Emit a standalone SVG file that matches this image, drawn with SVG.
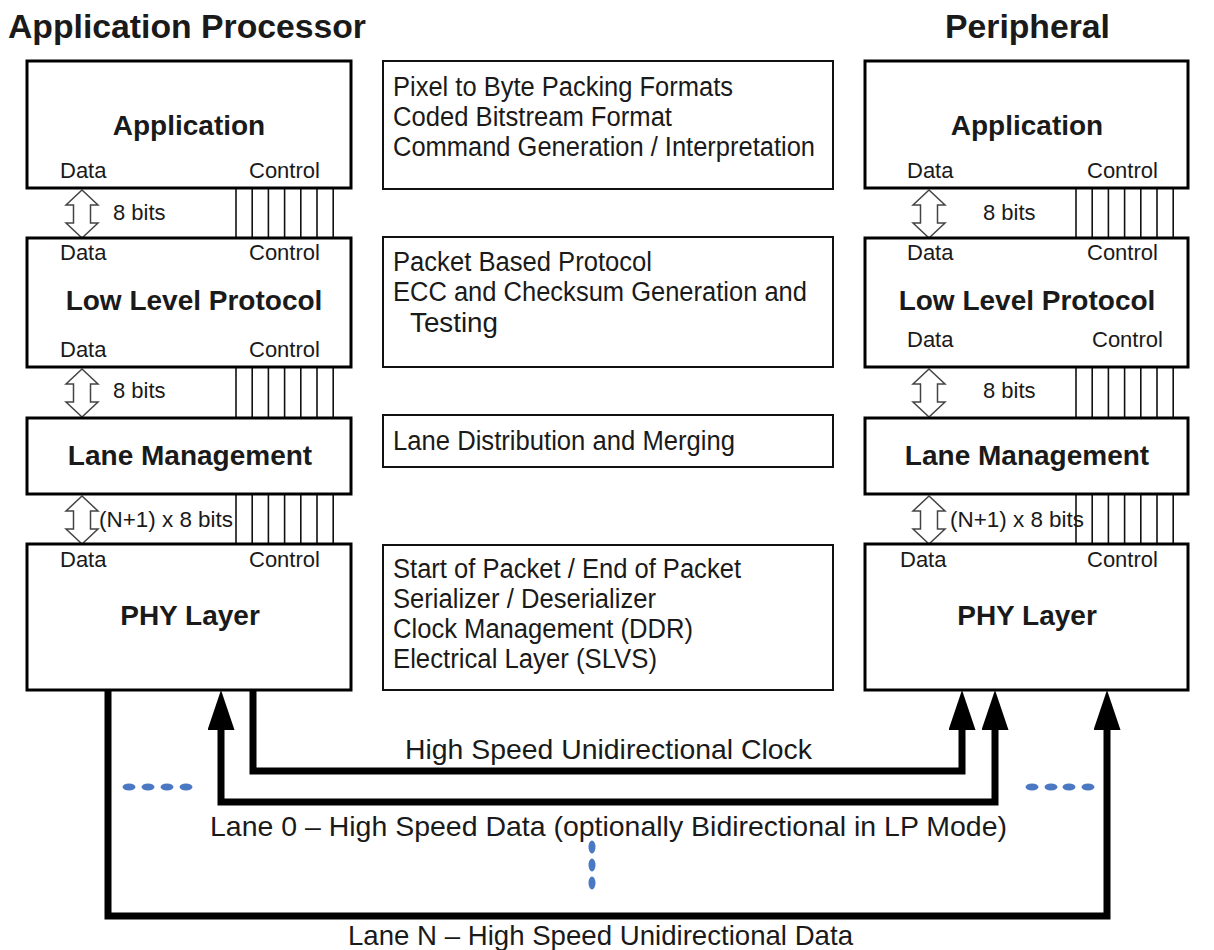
<svg xmlns="http://www.w3.org/2000/svg" width="1214" height="950" viewBox="0 0 1214 950">
<style>
text{font-family:"Liberation Sans",Arial,sans-serif;fill:#1a1a1a}
.title{font-size:34px;font-weight:bold}
.lbl{font-size:28px;font-weight:bold;text-anchor:middle}
.sm{font-size:22px}
.mid{font-size:27px}
.bot{font-size:28px}
.box{fill:#fff;stroke:#000;stroke-width:3}
.mbox{fill:#fff;stroke:#111;stroke-width:2}
.ctl{stroke:#111;stroke-width:1.6;fill:none}
.dbl{fill:#fff;stroke:#444;stroke-width:1.5}
.thick{fill:none;stroke:#000;stroke-width:7;stroke-linejoin:miter}
.dot{fill:#4a78c2}
</style>
<defs>
<marker id="ah" viewBox="0 0 40 27" refX="10" refY="13.5" markerWidth="40" markerHeight="27" markerUnits="userSpaceOnUse" orient="auto-start-reverse">
<path d="M0,0 L40,13.5 L0,27 Z" fill="#000"/>
</marker>
<path id="darr" d="M0,1 L16,16 L8.5,16 L8.5,34 L16,34 L0,49 L-16,34 L-8.5,34 L-8.5,16 L-16,16 Z"/>
<g id="ctl7">
<line x1="0" y1="0" x2="0" y2="50"/><line x1="16.2" y1="0" x2="16.2" y2="50"/><line x1="32.4" y1="0" x2="32.4" y2="50"/><line x1="48.6" y1="0" x2="48.6" y2="50"/><line x1="64.8" y1="0" x2="64.8" y2="50"/><line x1="81" y1="0" x2="81" y2="50"/><line x1="97.2" y1="0" x2="97.2" y2="50"/>
</g>
</defs>
<rect width="1214" height="950" fill="#fff"/>

<text class="title" x="8" y="38" textLength="358" lengthAdjust="spacingAndGlyphs">Application Processor</text>
<text class="title" x="945" y="38" textLength="165" lengthAdjust="spacingAndGlyphs">Peripheral</text>

<g id="connectors">
<g class="ctl">
<use href="#ctl7" x="236" y="188"/>
<use href="#ctl7" x="236" y="367"/>
<use href="#ctl7" x="236" y="494"/>
<use href="#ctl7" x="1076" y="188"/>
<use href="#ctl7" x="1076" y="367"/>
<use href="#ctl7" x="1076" y="494"/>
</g>
<g class="dbl">
<use href="#darr" x="82" y="189"/>
<use href="#darr" x="82" y="368"/>
<use href="#darr" x="82" y="495"/>
<use href="#darr" x="929" y="189"/>
<use href="#darr" x="929" y="368"/>
<use href="#darr" x="929" y="495"/>
</g>
<path id="clock" class="thick" d="M253,690 V771 H962 V720" marker-end="url(#ah)"/>
<path id="lane0" class="thick" d="M221,720 V802 H995 V720" marker-start="url(#ah)" marker-end="url(#ah)"/>
<path id="laneN" class="thick" d="M108,690 V916 H1107 V720" marker-end="url(#ah)"/>
<g id="dots">
<ellipse class="dot" cx="129" cy="787" rx="6.5" ry="3.5"/><ellipse class="dot" cx="148" cy="787" rx="6.5" ry="3.5"/><ellipse class="dot" cx="167" cy="787" rx="6.5" ry="3.5"/><ellipse class="dot" cx="186" cy="787" rx="6.5" ry="3.5"/>
<ellipse class="dot" cx="1032" cy="787" rx="6.5" ry="3.5"/><ellipse class="dot" cx="1051" cy="787" rx="6.5" ry="3.5"/><ellipse class="dot" cx="1069" cy="787" rx="6.5" ry="3.5"/><ellipse class="dot" cx="1088" cy="787" rx="6.5" ry="3.5"/>
<ellipse class="dot" cx="592" cy="847" rx="3.5" ry="6.5"/><ellipse class="dot" cx="592" cy="865" rx="3.5" ry="6.5"/><ellipse class="dot" cx="592" cy="883" rx="3.5" ry="6.5"/>
</g>
<text class="sm" x="113" y="220">8 bits</text>
<text class="sm" x="113" y="398">8 bits</text>
<text class="sm" x="99" y="527" textLength="134" lengthAdjust="spacingAndGlyphs">(N+1) x 8 bits</text>
<text class="sm" x="983" y="220">8 bits</text>
<text class="sm" x="983" y="398">8 bits</text>
<text class="sm" x="950" y="527" textLength="134" lengthAdjust="spacingAndGlyphs">(N+1) x 8 bits</text>
<text class="bot" x="405" y="759" textLength="407" lengthAdjust="spacingAndGlyphs">High Speed Unidirectional Clock</text>
<text class="bot" x="210" y="836" textLength="797" lengthAdjust="spacingAndGlyphs">Lane 0 – High Speed Data (optionally Bidirectional in LP Mode)</text>
<text class="bot" x="348" y="945" textLength="505" lengthAdjust="spacingAndGlyphs">Lane N – High Speed Unidirectional Data</text>
</g>

<g id="ap-application">
<rect class="box" x="27" y="61" width="324" height="127"/>
<text class="lbl" x="189" y="135">Application</text>
<text class="sm" x="60" y="178">Data</text>
<text class="sm" x="249" y="178">Control</text>
</g>
<g id="ap-llp">
<rect class="box" x="27" y="238" width="324" height="129"/>
<text class="sm" x="60" y="260">Data</text>
<text class="sm" x="249" y="260">Control</text>
<text class="lbl" x="194" y="310">Low Level Protocol</text>
<text class="sm" x="60" y="357">Data</text>
<text class="sm" x="249" y="357">Control</text>
</g>
<g id="ap-lane">
<rect class="box" x="27" y="418" width="324" height="76"/>
<text class="lbl" x="190" y="465">Lane Management</text>
</g>
<g id="ap-phy">
<rect class="box" x="27" y="544" width="324" height="146"/>
<text class="sm" x="60" y="567">Data</text>
<text class="sm" x="249" y="567">Control</text>
<text class="lbl" x="190" y="625">PHY Layer</text>
</g>

<g id="mid-app">
<rect class="mbox" x="383" y="61" width="450" height="128"/>
<text class="mid" x="393" y="96" textLength="340" lengthAdjust="spacingAndGlyphs">Pixel to Byte Packing Formats</text>
<text class="mid" x="393" y="126" textLength="279" lengthAdjust="spacingAndGlyphs">Coded Bitstream Format</text>
<text class="mid" x="393" y="156" textLength="422" lengthAdjust="spacingAndGlyphs">Command Generation / Interpretation</text>
</g>
<g id="mid-llp">
<rect class="mbox" x="383" y="237" width="450" height="130"/>
<text class="mid" x="393" y="271" textLength="259" lengthAdjust="spacingAndGlyphs">Packet Based Protocol</text>
<text class="mid" x="393" y="301" textLength="414" lengthAdjust="spacingAndGlyphs">ECC and Checksum Generation and</text>
<text class="mid" x="410" y="332" textLength="88" lengthAdjust="spacingAndGlyphs">Testing</text>
</g>
<g id="mid-lane">
<rect class="mbox" x="383" y="415" width="450" height="52"/>
<text class="mid" x="393" y="450" textLength="342" lengthAdjust="spacingAndGlyphs">Lane Distribution and Merging</text>
</g>
<g id="mid-phy">
<rect class="mbox" x="383" y="545" width="450" height="145"/>
<text class="mid" x="393" y="578" textLength="348" lengthAdjust="spacingAndGlyphs">Start of Packet / End of Packet</text>
<text class="mid" x="393" y="608" textLength="263" lengthAdjust="spacingAndGlyphs">Serializer / Deserializer</text>
<text class="mid" x="393" y="638" textLength="300" lengthAdjust="spacingAndGlyphs">Clock Management (DDR)</text>
<text class="mid" x="393" y="668" textLength="264" lengthAdjust="spacingAndGlyphs">Electrical Layer (SLVS)</text>
</g>

<g id="p-application">
<rect class="box" x="865" y="61" width="323" height="127"/>
<text class="lbl" x="1027" y="135">Application</text>
<text class="sm" x="907" y="178">Data</text>
<text class="sm" x="1087" y="178">Control</text>
</g>
<g id="p-llp">
<rect class="box" x="865" y="238" width="323" height="129"/>
<text class="sm" x="907" y="260">Data</text>
<text class="sm" x="1087" y="260">Control</text>
<text class="lbl" x="1027" y="310">Low Level Protocol</text>
<text class="sm" x="907" y="347">Data</text>
<text class="sm" x="1092" y="347">Control</text>
</g>
<g id="p-lane">
<rect class="box" x="865" y="418" width="323" height="76"/>
<text class="lbl" x="1027" y="465">Lane Management</text>
</g>
<g id="p-phy">
<rect class="box" x="865" y="544" width="323" height="146"/>
<text class="sm" x="900" y="567">Data</text>
<text class="sm" x="1087" y="567">Control</text>
<text class="lbl" x="1027" y="625">PHY Layer</text>
</g>
</svg>
